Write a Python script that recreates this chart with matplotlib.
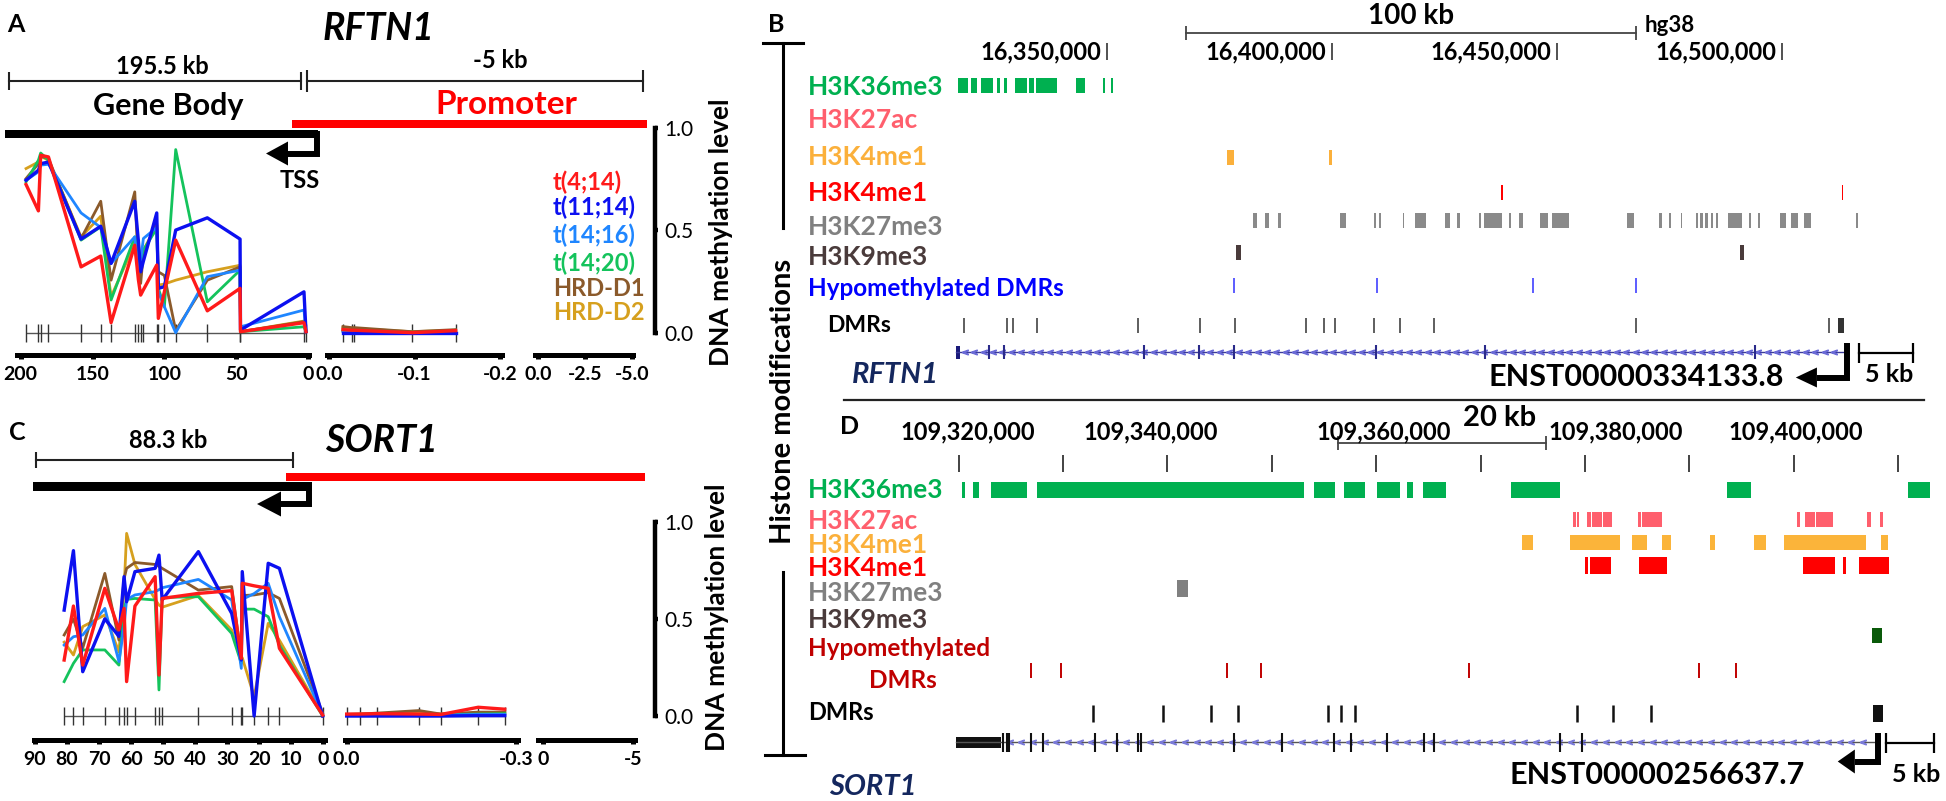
import numpy as np
import matplotlib
matplotlib.use('Agg')
import matplotlib.pyplot as plt
from matplotlib.patches import Rectangle

plt.rcParams['font.family'] = ['Lato', 'DejaVu Sans']

W, H = 1946, 801

# ---------------- methylation data ----------------
groups = ['t(4;14)', 't(11;14)', 't(14;16)', 't(14;20)', 'HRD-D1', 'HRD-D2']
group_colors = ['#ff1a1a', '#0c10f0', '#1f86ff', '#14c35c', '#8b5a2b', '#d6a01e']

# RFTN1 gene body, CpG positions in kb upstream of TSS
rftn1_body_kb = [196.3, 187.7, 186.1, 180.7, 158.0, 144.3, 137.1, 120.6, 118.1, 116.5,
                 114.6, 105.3, 104.2, 100.0, 92.1, 70.1, 47.3, 47.0, 2.8, 1.4]
rftn1_body_t414 = [0.725, 0.596, 0.868, 0.860, 0.322, 0.375, 0.049, 0.428, 0.26, 0.184,
                   0.21, 0.331, 0.07, 0.2, 0.453, 0.107, 0.217, 0.005, 0.049, 0.005]
rftn1_body_t1114 = [0.746, 0.795, 0.827, 0.835, 0.458, 0.521, 0.339, 0.643, 0.45, 0.298,
                    0.35, 0.586, 0.217, 0.225, 0.502, 0.562, 0.458, 0.013, 0.2, 0.005]
rftn1_body_t1416 = [0.746, 0.787, 0.82, 0.824, 0.586, 0.515, 0.339, 0.469, 0.298, 0.355,
                    0.461, 0.515, 0.2, 0.127, 0.0, 0.274, 0.306, 0.029, 0.111, 0.005]
rftn1_body_t1420 = [0.738, 0.844, 0.879, 0.844, 0.453, 0.518, 0.16, 0.469, 0.322, 0.355,
                    0.404, 0.51, 0.217, 0.127, 0.896, 0.151, 0.306, 0.005, 0.029, 0.005]
rftn1_body_hrd1 = [0.754, 0.827, 0.863, 0.852, 0.461, 0.643, 0.257, 0.689, 0.32, 0.241,
                   0.39, 0.534, 0.298, 0.28, 0.01, 0.257, 0.322, 0.005, 0.054, 0.005]
rftn1_body_hrd2 = [0.803, 0.835, 0.863, 0.844, 0.469, 0.57, 0.176, 0.436, 0.29, 0.322,
                   0.404, 0.526, 0.233, 0.238, 0.257, 0.298, 0.33, 0.005, 0.057, 0.005]

# RFTN1 promoter
rftn1_prom_kb = [-0.016, -0.026, -0.029, -0.097, -0.148]
rftn1_prom_t414 = [0.015, 0.012, 0.012, 0.0, 0.01]
rftn1_prom_t1114 = [0.0, 0.0, 0.0, 0.0, 0.0]
rftn1_prom_t1416 = [0.005, 0.005, 0.005, 0.0, 0.003]
rftn1_prom_t1420 = [0.01, 0.008, 0.008, 0.0, 0.005]
rftn1_prom_hrd1 = [0.03, 0.025, 0.025, 0.005, 0.015]
rftn1_prom_hrd2 = [0.025, 0.02, 0.02, 0.005, 0.012]

# SORT1 gene body
sort1_body_kb = [80.9, 78.0, 75.1, 68.2, 63.8, 62.2, 61.4, 58.8, 52.5, 51.3,
                 50.3, 39.0, 28.6, 25.6, 25.3, 21.6, 17.2, 13.7, 0.2]
sort1_body_t414 = [0.288, 0.566, 0.262, 0.657, 0.443, 0.554, 0.177, 0.566, 0.717, 0.211,
                   0.605, 0.631, 0.645, 0.297, 0.683, 0.67, 0.657, 0.348, 0.005]
sort1_body_t1114 = [0.545, 0.851, 0.228, 0.5, 0.41, 0.717, 0.588, 0.743, 0.76, 0.828,
                    0.597, 0.846, 0.528, 0.288, 0.743, 0.0, 0.786, 0.76, 0.0]
sort1_body_t1416 = [0.365, 0.408, 0.417, 0.554, 0.28, 0.46, 0.6, 0.623, 0.64, 0.65,
                    0.66, 0.703, 0.597, 0.245, 0.6, 0.63, 0.683, 0.511, 0.005]
sort1_body_t1420 = [0.177, 0.271, 0.34, 0.34, 0.262, 0.55, 0.6, 0.605, 0.597, 0.134,
                    0.61, 0.614, 0.425, 0.271, 0.55, 0.55, 0.511, 0.365, 0.0]
sort1_body_hrd1 = [0.417, 0.5, 0.35, 0.734, 0.391, 0.708, 0.76, 0.79, 0.78, 0.77,
                   0.76, 0.648, 0.666, 0.3, 0.62, 0.623, 0.635, 0.605, 0.014]
sort1_body_hrd2 = [0.38, 0.314, 0.46, 0.52, 0.33, 0.65, 0.94, 0.78, 0.6, 0.571,
                   0.56, 0.62, 0.443, 0.28, 0.3, 0.1, 0.477, 0.39, 0.005]

# SORT1 promoter
sort1_prom_kb = [0.0, -0.024, -0.054, -0.128, -0.167, -0.233, -0.28]
sort1_prom_t414 = [0.01, 0.01, 0.012, 0.01, 0.008, 0.045, 0.035]
sort1_prom_t1114 = [0.0, 0.0, 0.0, 0.0, 0.0, 0.002, 0.002]
sort1_prom_t1416 = [0.003, 0.003, 0.005, 0.005, 0.005, 0.008, 0.008]
sort1_prom_t1420 = [0.005, 0.005, 0.005, 0.005, 0.005, 0.01, 0.012]
sort1_prom_hrd1 = [0.008, 0.01, 0.015, 0.028, 0.01, 0.02, 0.02]
sort1_prom_hrd2 = [0.008, 0.01, 0.012, 0.02, 0.01, 0.015, 0.018]

# ---------------- genome browser tracks (kb, hg38) ----------------
rftn1_h3k36me3 = [(16316.8, 16319.1), (16319.8, 16321.0), (16321.9, 16324.6), (16325.5, 16326.1),
                  (16327.1, 16327.6), (16329.4, 16332.2), (16332.7, 16333.6), (16334.1, 16338.8),
                  (16343.0, 16345.1), (16349.1, 16349.5), (16350.8, 16351.3)]
rftn1_h3k4me1_a = [(16376.7, 16378.1), (16399.2, 16399.9)]
rftn1_h3k4me1_b = [(16437.6, 16438.0), (16513.2, 16513.6)]
rftn1_h3k27me3 = [(16382.3, 16383.2), (16385.1, 16386.0), (16387.9, 16388.5), (16401.8, 16403.0),
                  (16409.2, 16409.7), (16410.3, 16410.9), (16415.7, 16416.0), (16418.3, 16420.8),
                  (16425.0, 16426.2), (16427.8, 16428.4), (16432.7, 16433.0), (16433.8, 16437.8),
                  (16439.2, 16439.7), (16441.6, 16442.3), (16446.1, 16447.9), (16448.9, 16452.6),
                  (16465.5, 16467.1), (16472.6, 16473.2), (16474.8, 16475.2), (16477.4, 16477.7),
                  (16480.8, 16481.3), (16481.7, 16482.3), (16482.9, 16483.4), (16484.1, 16484.5),
                  (16485.2, 16485.8), (16488.0, 16491.0), (16492.6, 16493.1), (16494.6, 16495.1),
                  (16499.4, 16500.8), (16501.9, 16503.4), (16504.8, 16506.4), (16516.3, 16516.9)]
rftn1_h3k9me3 = [(16378.7, 16379.7), (16490.6, 16491.5)]
rftn1_hypo_dmr = [16378.1, 16410.0, 16444.5, 16467.6]
rftn1_dmr = [16318.2, 16327.8, 16329.0, 16334.3, 16356.8, 16370.6, 16378.3, 16394.1,
             16398.2, 16400.6, 16409.2, 16415.0, 16422.5, 16467.6, 16510.4]
rftn1_dmr_wide = [(16512.4, 16513.8)]
rftn1_exons = [16323.8, 16327.1, 16358.2, 16370.3, 16378.1, 16409.7, 16434.0, 16494.0]
rftn1_tx = (16316.3, 16514.3)
rftn1_ruler = [16350, 16400, 16450, 16500]

sort1_h3k36me3 = [(109320.32, 109320.6), (109321.33, 109321.93), (109323.14, 109326.57),
                  (109327.46, 109353.05), (109354.05, 109356.02), (109356.86, 109358.94),
                  (109360.07, 109362.23), (109362.95, 109363.47), (109364.47, 109366.64),
                  (109372.89, 109377.58), (109393.61, 109395.9), (109410.9, 109413.05)]
sort1_h3k27ac = [(109378.86, 109379.1), (109379.18, 109379.46), (109380.18, 109380.59),
                 (109380.67, 109381.59), (109381.71, 109382.59), (109385.11, 109385.4),
                 (109385.48, 109387.32), (109400.3, 109400.54), (109401.02, 109402.03),
                 (109402.11, 109403.71), (109407.04, 109407.36), (109408.24, 109408.56)]
sort1_h3k4me1_a = [(109373.97, 109374.97), (109378.58, 109383.39), (109384.47, 109385.92),
                   (109387.32, 109388.2), (109391.93, 109392.41), (109396.22, 109397.34),
                   (109399.02, 109406.92), (109408.36, 109409.04)]
sort1_h3k4me1_b = [(109379.98, 109380.26), (109380.5, 109382.47), (109385.2, 109387.8),
                   (109400.9, 109403.91), (109404.71, 109404.95), (109406.24, 109409.08)]
sort1_h3k27me3 = [(109340.89, 109341.97)]
sort1_h3k9me3 = [(109407.52, 109408.44)]
sort1_hypo_dmr = [109326.97, 109329.8, 109345.73, 109348.95, 109368.84, 109390.89, 109394.41]
sort1_dmr = [109332.9, 109339.55, 109344.19, 109346.73, 109355.42, 109356.62, 109357.94,
             109379.26, 109382.71, 109386.28]
sort1_dmr_wide = [(109407.56, 109408.52)]
sort1_utr = [(109319.71, 109324.07)]
sort1_exons = [109324.23, 109324.63, 109324.84, 109326.97, 109328.1, 109333.02, 109335.12,
               109337.13, 109337.46, 109346.33, 109350.97, 109355.94, 109357.62, 109361.07,
               109364.55, 109365.56, 109377.58, 109379.66]
sort1_tx = (109319.71, 109408.04)
sort1_ruler = list(range(109320, 109411, 10))
sort1_ruler_labelled = [109320, 109340, 109360, 109380, 109400]

fig = plt.figure(figsize=(W / 100, H / 100), dpi=100)


def px_axes(x0, y0, x1, y1):
    ax = fig.add_axes([x0 / W, 1 - y1 / H, (x1 - x0) / W, (y1 - y0) / H])
    ax.patch.set_visible(False)
    return ax


def txt(ax, x, y, s, size, color='black', weight='normal', style='normal', ha='center', rot=0):
    ax.text(x, y, s, fontsize=size, color=color, fontweight=weight, fontstyle=style,
            ha=ha, va='center', rotation=rot)


def scale_bar(ax, x0, x1, y, cap, lw=1.5, color='#222222'):
    ax.plot([x0, x1], [y, y], color=color, lw=lw)
    ax.vlines([x0, x1], y - cap, y + cap, color=color, lw=lw)


canvas = fig.add_axes([0, 0, 1, 1])
canvas.set_xlim(0, W)
canvas.set_ylim(H, 0)
canvas.axis('off')


def meth_segment(box, xlim, ybot, ticks, ticklabels, cpg=None, series=None):
    ax = px_axes(*box)
    ax.set_xlim(*xlim)
    ax.set_ylim(ybot, 1.0)
    for s in ('top', 'left', 'right'):
        ax.spines[s].set_visible(False)
    ax.spines['bottom'].set_linewidth(3.6)
    ax.set_yticks([])
    ax.set_xticks(ticks)
    ax.set_xticklabels(ticklabels, fontsize=14, fontweight='bold')
    ax.tick_params(axis='x', direction='out', length=3, width=3.6, pad=5)
    if cpg is not None:
        ax.hlines(0, min(cpg), max(cpg), color='#555555', lw=1)
        ax.vlines(cpg, -0.045, 0.045, color='#333333', lw=1)
        for i in [5, 4, 3, 2, 1, 0]:
            lw = 2.4 if i in (0, 1) else 2.0
            ax.plot(cpg, series[i], color=group_colors[i], lw=lw)
    return ax


def meth_yaxis(y_top, y_bot):
    ax = px_axes(600, y_top, 655, y_bot)
    ax.set_ylim(0, 1)
    for s in ('top', 'left', 'bottom'):
        ax.spines[s].set_visible(False)
    ax.spines['right'].set_linewidth(3.2)
    ax.set_xticks([])
    ax.yaxis.tick_right()
    ax.set_yticks([0, 0.5, 1.0])
    ax.set_yticklabels(['0.0', '0.5', '1.0'], fontsize=15)
    ax.tick_params(axis='y', direction='out', length=2.5, width=3.2, pad=4)


def tss_arrow(ax, x, y_top, y_turn, x_end, x_tip, head_half, lw=4.3):
    ax.plot([x, x, x_end], [y_top, y_turn, y_turn], color='black', lw=lw,
            solid_joinstyle='miter', solid_capstyle='butt')
    ax.fill([x_end, x_tip, x_end], [y_turn - head_half, y_turn, y_turn + head_half],
            color='black', lw=0)


# ---------------- Panel A ----------------
txt(canvas, 16, 25, 'A', 18, weight='bold')
txt(canvas, 379, 28, 'RFTN1', 27, weight='bold', style='italic')
scale_bar(canvas, 9, 301, 81, 9)
scale_bar(canvas, 307, 643, 81, 11)
txt(canvas, 162, 66, '195.5 kb', 17, weight='bold')
txt(canvas, 500, 61, '-5 kb', 17, weight='bold')
txt(canvas, 168, 106, 'Gene Body', 22, weight='bold')
txt(canvas, 506, 104, 'Promoter', 24, color='#ff0000', weight='bold')
canvas.add_patch(Rectangle((292, 120), 355, 8, color='#ff0000', lw=0))
canvas.add_patch(Rectangle((5, 130), 313, 8, color='black', lw=0))
tss_arrow(canvas, 316.5, 131, 153.5, 288, 266, 12)
txt(canvas, 300, 181, 'TSS', 17, weight='bold')

a_ybot = -(354.5 - 332.7) / 204.4
meth_segment((17, 128.3, 309, 354.5), (202.6, -0.7), a_ybot, [200, 150, 100, 50, 0],
             ['200', '150', '100', '50', '0'], rftn1_body_kb,
             [rftn1_body_t414, rftn1_body_t1114, rftn1_body_t1416, rftn1_body_t1420,
              rftn1_body_hrd1, rftn1_body_hrd2])
meth_segment((327, 128.3, 502, 354.5), (0.0027, -0.2023), a_ybot, [0, -0.1, -0.2],
             ['0.0', '-0.1', '-0.2'], rftn1_prom_kb,
             [rftn1_prom_t414, rftn1_prom_t1114, rftn1_prom_t1416, rftn1_prom_t1420,
              rftn1_prom_hrd1, rftn1_prom_hrd2])
meth_segment((535, 128.3, 633, 354.5), (0.177, -5.07), a_ybot, [0, -2.5, -5],
             ['0.0', '-2.5', '-5.0'])
meth_yaxis(128.3, 332.7)
txt(canvas, 721, 232, 'DNA methylation level', 19, weight='bold', rot=90)
for name, col, yy in zip(groups, group_colors, [182, 207, 235, 263, 288, 313]):
    txt(canvas, 553, yy, name, 17, color=col, weight='bold', ha='left')

# ---------------- Panel C ----------------
txt(canvas, 17, 432, 'C', 18, weight='bold')
txt(canvas, 381, 441, 'SORT1', 27, weight='bold', style='italic')
scale_bar(canvas, 36, 293, 460, 8)
txt(canvas, 168, 440, '88.3 kb', 17, weight='bold')
canvas.add_patch(Rectangle((286, 473), 359, 7.5, color='#ff0000', lw=0))
canvas.add_patch(Rectangle((33, 482), 279, 9, color='black', lw=0))
tss_arrow(canvas, 309, 483, 504, 281, 257, 12.5)

c_ybot = -(740 - 716) / 194.3
meth_segment((33.5, 521.7, 325, 740), (90.47, -0.53), c_ybot, list(range(90, -1, -10)),
             [str(v) for v in range(90, -1, -10)], sort1_body_kb,
             [sort1_body_t414, sort1_body_t1114, sort1_body_t1416, sort1_body_t1420,
              sort1_body_hrd1, sort1_body_hrd2])
meth_segment((345, 521.7, 518, 740), (0.003, -0.3035), c_ybot, [0, -0.3],
             ['0.0', '-0.3'], sort1_prom_kb,
             [sort1_prom_t414, sort1_prom_t1114, sort1_prom_t1416, sort1_prom_t1420,
              sort1_prom_hrd1, sort1_prom_hrd2])
meth_segment((538, 521.7, 635, 740), (0.278, -5.11), c_ybot, [0, -5], ['0', '-5'])
meth_yaxis(521.7, 716)
txt(canvas, 717, 617, 'DNA methylation level', 19, weight='bold', rot=90)

# ---------------- Histone bracket, labels ----------------
txt(canvas, 776, 24, 'B', 18, weight='bold')
txt(canvas, 850, 426, 'D', 18, weight='bold')
canvas.plot([763, 803], [43, 43], color='black', lw=2.2)
canvas.plot([783, 783], [43, 228], color='black', lw=2.2)
canvas.plot([783, 783], [572, 755], color='black', lw=2.2)
canvas.plot([765, 805], [755, 755], color='black', lw=2.2)
txt(canvas, 783, 401, 'Histone modifications', 21, weight='bold', rot=90)
canvas.plot([844, 1924], [400, 400], color='#222222', lw=1.6)

track_names = ['H3K36me3', 'H3K27ac', 'H3K4me1', 'H3K4me1', 'H3K27me3', 'H3K9me3']
track_colors = ['#00b050', '#ff5f6d', '#fbb03b', '#ff0000', '#808080', '#4a3b3b']
for name, col, yy in zip(track_names, track_colors, [87, 120, 157, 193, 227, 257]):
    txt(canvas, 808, yy, name, 19, color=col, weight='bold', ha='left')
txt(canvas, 808, 288, 'Hypomethylated DMRs', 17.5, color='#0000ff', weight='bold', ha='left')
txt(canvas, 827, 325, 'DMRs', 16.5, weight='bold', ha='left')
for name, col, yy in zip(track_names, track_colors, [490, 521, 545, 568, 593, 620]):
    txt(canvas, 808, yy, name, 19, color=col, weight='bold', ha='left')
txt(canvas, 808, 648, 'Hypomethylated', 17.5, color='#c00000', weight='bold', ha='left')
txt(canvas, 869, 680, 'DMRs', 17.5, color='#c00000', weight='bold', ha='left')
txt(canvas, 808, 712, 'DMRs', 17, weight='bold', ha='left')
txt(canvas, 895, 375, 'RFTN1', 21, color='#14275e', weight='bold', style='italic')
txt(canvas, 873, 787, 'SORT1', 21, color='#14275e', weight='bold', style='italic')


def bars(ax, iv, y, h, color):
    ax.broken_barh([(a, b - a) for a, b in iv], (y - h / 2, h), facecolors=color,
                   edgecolor='none')


# ---------------- Panel B (RFTN1 browser) ----------------
ax_b = px_axes(940, 0, 1940, 400)
ax_b.set_xlim(16312.82, 16535.05)
ax_b.set_ylim(400, 0)
ax_b.axis('off')
for t in rftn1_ruler:
    ax_b.vlines(t, 43, 60, color='#333333', lw=1.2)
    txt(ax_b, t - 1.3, 52, f'{t * 1000:,}', 17, weight='bold', ha='right')
scale_bar(ax_b, 16367.5, 16467.5, 33, 7, lw=1.3, color='#444444')
txt(ax_b, 16417.5, 16, '100 kb', 20, weight='bold')
txt(ax_b, 16469.5, 25, 'hg38', 16, weight='bold', ha='left')
bars(ax_b, rftn1_h3k36me3, 85.5, 15, '#00b050')
bars(ax_b, rftn1_h3k4me1_a, 157.5, 15, '#fbb03b')
bars(ax_b, rftn1_h3k4me1_b, 192.5, 15, '#ff0000')
bars(ax_b, rftn1_h3k27me3, 220.5, 15, '#8a8a8a')
bars(ax_b, rftn1_h3k9me3, 252.5, 15, '#4a3b3b')
ax_b.vlines(rftn1_hypo_dmr, 278, 293, color='#3030ff', lw=1.1)
ax_b.vlines(rftn1_dmr, 318, 333, color='#333333', lw=1.1)
bars(ax_b, rftn1_dmr_wide, 325.5, 15, '#333333')
ax_b.plot(rftn1_tx, [352, 352], color='#3b3b9a', lw=1.0)
chev = np.arange(rftn1_tx[0] + 2, rftn1_tx[1] - 1, 2.1)
ax_b.plot(chev, np.full(len(chev), 352), ls='none', marker=r'$<$', ms=4, color='#6b6bd6')
ax_b.vlines(rftn1_exons, 345, 359, color='#2a2a8a', lw=1.5)
bars(ax_b, [(rftn1_tx[0], rftn1_tx[0] + 1.0)], 352, 13, '#1a1a7a')
tss_arrow(ax_b, rftn1_tx[1], 343, 377.5, rftn1_tx[1] - 6.6, rftn1_tx[1] - 11.3, 10)
txt(ax_b, 16467.6, 377, 'ENST00000334133.8', 22, weight='bold')
scale_bar(ax_b, 16517.0, 16529.1, 353, 10, lw=1.6, color='black')
txt(ax_b, 16523.7, 374, '5 kb', 18, weight='bold')

# ---------------- Panel D (SORT1 browser) ----------------
ax_d = px_axes(940, 400, 1946, 801)
ax_d.set_xlim(109318.21, 109414.57)
ax_d.set_ylim(801, 400)
ax_d.axis('off')
ax_d.vlines(sort1_ruler, 455, 472, color='#222222', lw=1.2)
label_shift = [0.9, -1.6, 0.7, 2.9, 0.2]   # browser nudges labels off their ticks
for t, dx in zip(sort1_ruler_labelled, label_shift):
    txt(ax_d, t + dx, 432, f'{t * 1000:,}', 17, weight='bold')
scale_bar(ax_d, 109356.33, 109376.26, 443, 7, lw=1.3, color='#444444')
txt(ax_d, 109371.8, 418, '20 kb', 21, weight='bold')
bars(ax_d, sort1_h3k36me3, 490, 16, '#00b050')
bars(ax_d, sort1_h3k27ac, 519.5, 15, '#ff5f6d')
bars(ax_d, sort1_h3k4me1_a, 542.5, 15, '#fbb43a')
bars(ax_d, sort1_h3k4me1_b, 565.5, 17, '#ff0000')
bars(ax_d, sort1_h3k27me3, 588.5, 17, '#808080')
bars(ax_d, sort1_h3k9me3, 635.5, 15, '#0a5a0a')
ax_d.vlines(sort1_hypo_dmr, 663, 678, color='#c00000', lw=1.4)
ax_d.vlines(sort1_dmr, 705, 722, color='#111111', lw=1.8)
bars(ax_d, sort1_dmr_wide, 713.5, 17, '#111111')
ax_d.plot(sort1_tx, [742, 742], color='#555555', lw=1.0)
chev = np.arange(sort1_utr[0][1] + 0.8, sort1_tx[1] - 0.5, 1.12)
ax_d.plot(chev, np.full(len(chev), 742), ls='none', marker=r'$<$', ms=4, color='#7b7bd8')
ax_d.vlines(sort1_exons, 733, 752, color='#111111', lw=1.5)
bars(ax_d, sort1_utr, 742.5, 11, '#111111')
tss_arrow(ax_d, sort1_tx[1], 733, 761.5, sort1_tx[1] - 2.2, sort1_tx[1] - 3.84, 12)
txt(ax_d, 109386.9, 775, 'ENST00000256637.7', 22, weight='bold')
scale_bar(ax_d, 109408.83, 109413.43, 743, 10, lw=1.6, color='black')
txt(ax_d, 109411.7, 775, '5 kb', 18, weight='bold')

fig.savefig('out.png', dpi=100)
